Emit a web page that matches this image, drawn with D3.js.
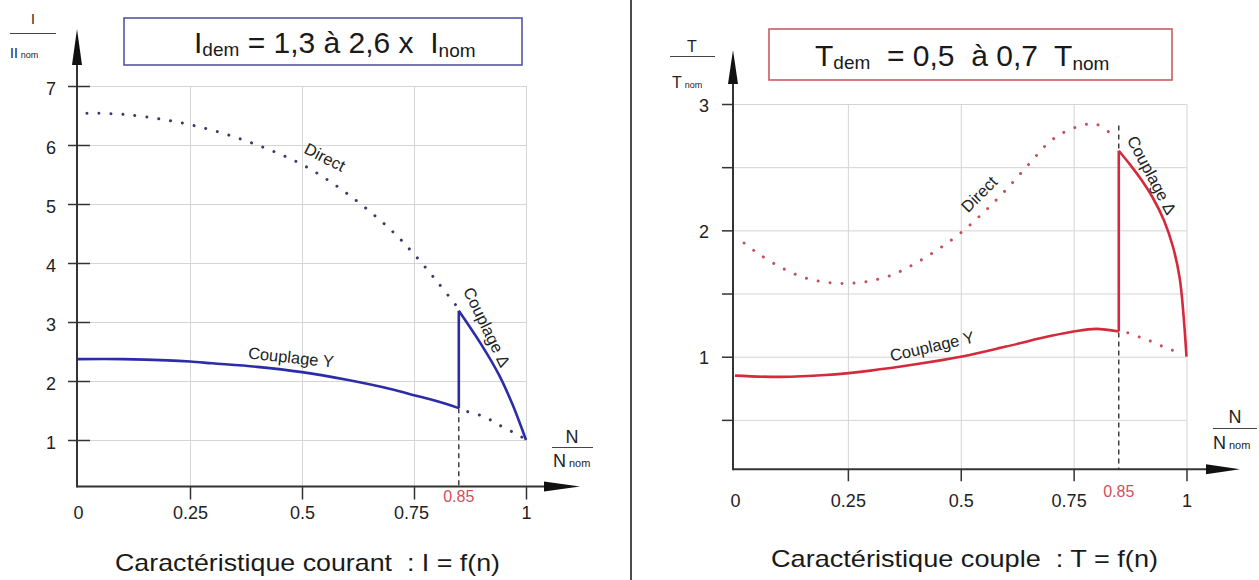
<!DOCTYPE html>
<html>
<head>
<meta charset="utf-8">
<script src="https://cdn.jsdelivr.net/npm/d3@7"></script>
<style>
body { margin: 0; background: #fff; }
svg { display: block; font-family: "Liberation Sans", Arial, sans-serif; }
</style>
</head>
<body>
<svg width="1259" height="580"></svg>
<script>
var svg = d3.select('svg');

// axe N / N nom, commun aux deux graphes
var xTicks = [0, 0.25, 0.5, 0.75, 1];
var nSwitch = 0.85;

// courant : I / I nom
var curTicksY = [1, 2, 3, 4, 5, 6, 7];
var nDirectI = [0.02, 0.1, 0.2, 0.3, 0.4, 0.5, 0.6, 0.7, 0.75, 0.8, 0.85];
var directI = [6.54, 6.52, 6.42, 6.25, 6.0, 5.67, 5.18, 4.55, 4.15, 3.7, 3.22];
var nDirectI2 = [0.87, 0.905, 0.93, 0.955, 0.98, 1];
var directI2 = [1.48, 1.4, 1.3, 1.19, 1.1, 1.0];
var nCouplageYI = [0, 0.1, 0.2, 0.25, 0.3, 0.4, 0.5, 0.6, 0.7, 0.75, 0.8, 0.85];
var couplageYI = [2.37, 2.37, 2.35, 2.33, 2.3, 2.24, 2.15, 2.02, 1.86, 1.76, 1.66, 1.54];
var nCouplageDI = [0.85, 0.9, 0.94, 0.97, 1];
var couplageDI = [3.19, 2.62, 2.1, 1.6, 1.0];

// couple : T / T nom
var torqueTicksY = [0.5, 1, 1.5, 2, 2.5, 3];
var torqueLabelsY = [1, 2, 3];
var nDirectT = [0.02, 0.05, 0.1, 0.15, 0.2, 0.25, 0.3, 0.35, 0.4, 0.45, 0.5, 0.55, 0.6, 0.65, 0.7, 0.75, 0.8, 0.84];
var directT = [1.9, 1.82, 1.71, 1.63, 1.59, 1.58, 1.6, 1.65, 1.74, 1.85, 1.98, 2.14, 2.32, 2.52, 2.71, 2.81, 2.84, 2.74];
var nDirectT2 = [0.87, 0.9, 0.93, 0.96, 0.985];
var directT2 = [1.19, 1.15, 1.11, 1.06, 1.04];
var nCouplageYT = [0, 0.1, 0.2, 0.3, 0.4, 0.5, 0.6, 0.7, 0.75, 0.8, 0.85];
var couplageYT = [0.85, 0.84, 0.855, 0.89, 0.94, 1.0, 1.08, 1.165, 1.2, 1.22, 1.2];
var nCouplageDT = [0.85, 0.875, 0.9, 0.925, 0.95, 0.97, 0.985, 1];
var couplageDT = [2.63, 2.52, 2.4, 2.26, 2.08, 1.87, 1.62, 1.0];

var panels = [
	{
		xRange: [78, 526], yDomain: [1, 7], yRange: [440, 86],
		axisX: 77, axisY: 486.5, xTip: 580, yTip: 29, arrowLen: 34,
		yGrid: curTicksY, yTicks: curTicksY, yLabels: curTicksY,
		yTickOut: 9, yTickIn: 13, yLabelX: 56, yLabelDy: 8,
		xTickLen: 13, xLabelY: 519, switchLabelY: 502, shift75: -3,
		dashTop: null,
		solid: '#2c2ca8', dots: '#3a3a6c', box: '#5656a0',
		direct: [nDirectI, directI], direct2: [nDirectI2, directI2],
		coupY: [nCouplageYI, couplageYI], coupD: [nCouplageDI, couplageDI],
		lblDirect: [325, 157, 27], lblY: [291, 357, 6], lblD: [487, 327, 64]
	},
	{
		xRange: [735, 1186.5], yDomain: [1, 3], yRange: [356.7, 104],
		axisX: 733, axisY: 469.3, xTip: 1240, yTip: 50, arrowLen: 32,
		yGrid: torqueTicksY, yTicks: torqueTicksY, yLabels: torqueLabelsY,
		yTickOut: 11, yTickIn: 0, yLabelX: 709, yLabelDy: 7,
		xTickLen: 12, xLabelY: 507, switchLabelY: 497, shift75: -5,
		dashTop: 2.83,
		solid: '#d42a3c', dots: '#c4505c', box: '#cc5a64',
		direct: [nDirectT, directT], direct2: [nDirectT2, directT2],
		coupY: [nCouplageYT, couplageYT], coupD: [nCouplageDT, couplageDT],
		lblDirect: [979, 194, -45], lblY: [932, 346, -13], lblD: [1152, 175, 62]
	}
];

function drawPanel(p) {
	var x = d3.scaleLinear().domain([0, 1]).range(p.xRange);
	var y = d3.scaleLinear().domain(p.yDomain).range(p.yRange);
	var top = y(p.yDomain[1]);
	var g = svg.append('g');

	// grille
	var gy = g.append('g')
		.attr('transform', `translate(${p.axisX},0)`)
		.call(d3.axisRight(y).tickValues(p.yGrid).tickSize(x(1) - p.axisX).tickFormat(''));
	gy.select('.domain').remove();
	gy.selectAll('line').attr('stroke', '#d4d4d4');

	var gx = g.append('g')
		.attr('transform', `translate(0,${p.axisY})`)
		.call(d3.axisBottom(x).tickValues(xTicks.slice(1)).tickSize(-(p.axisY - top)).tickFormat(''));
	gx.select('.domain').remove();
	gx.selectAll('line').attr('stroke', '#d4d4d4');

	var line = d3.line()
		.x(d => x(d[0]))
		.y(d => y(d[1]))
		.curve(d3.curveCatmullRom.alpha(0.5));

	// Direct (pointillés)
	[p.direct, p.direct2].forEach(function (s) {
		g.append('path')
			.attr('d', line(d3.zip(s[0], s[1])))
			.attr('fill', 'none')
			.attr('stroke', p.dots)
			.attr('stroke-width', 3)
			.attr('stroke-linecap', 'round')
			.attr('stroke-dasharray', '0.01 12');
	});

	// repère 0.85
	var yEnd = p.coupY[1][p.coupY[1].length - 1];
	var dashFrom = p.dashTop != null ? y(p.dashTop) : y(yEnd);
	g.append('line')
		.attr('x1', x(nSwitch)).attr('x2', x(nSwitch))
		.attr('y1', dashFrom).attr('y2', p.axisY)
		.attr('stroke', '#222')
		.attr('stroke-width', 1.3)
		.attr('stroke-dasharray', '5 4');

	// couplages (trait plein)
	[p.coupY, p.coupD].forEach(function (s) {
		g.append('path')
			.attr('d', line(d3.zip(s[0], s[1])))
			.attr('fill', 'none')
			.attr('stroke', p.solid)
			.attr('stroke-width', 2.6);
	});
	g.append('line')
		.attr('x1', x(nSwitch)).attr('x2', x(nSwitch))
		.attr('y1', y(yEnd)).attr('y2', y(p.coupD[1][0]))
		.attr('stroke', p.solid)
		.attr('stroke-width', 2.6);

	// axes + flèches
	g.append('line')
		.attr('x1', p.axisX).attr('x2', p.xTip - p.arrowLen)
		.attr('y1', p.axisY).attr('y2', p.axisY)
		.attr('stroke', '#333').attr('stroke-width', 2);
	g.append('line')
		.attr('x1', p.axisX).attr('x2', p.axisX)
		.attr('y1', p.axisY + 1).attr('y2', p.yTip + p.arrowLen)
		.attr('stroke', '#333').attr('stroke-width', 2);
	g.append('path')
		.attr('d', `M${p.xTip},${p.axisY}L${p.xTip - p.arrowLen - 2},${p.axisY - 5}L${p.xTip - p.arrowLen - 2},${p.axisY + 5}Z`)
		.attr('fill', '#111');
	g.append('path')
		.attr('d', `M${p.axisX},${p.yTip}L${p.axisX - 5},${p.yTip + p.arrowLen + 2}L${p.axisX + 5},${p.yTip + p.arrowLen + 2}Z`)
		.attr('fill', '#111');

	// graduations Y
	var ay = g.append('g')
		.attr('transform', `translate(${p.axisX},0)`)
		.call(d3.axisLeft(y).tickValues(p.yTicks).tickSize(p.yTickOut)
			.tickFormat(d => p.yLabels.indexOf(d) >= 0 ? d : ''));
	ay.select('.domain').remove();
	ay.selectAll('line').attr('x1', p.yTickIn).attr('stroke', '#333').attr('stroke-width', 1.5);
	ay.selectAll('text')
		.attr('x', p.yLabelX - p.axisX)
		.attr('dy', null)
		.attr('y', p.yLabelDy)
		.attr('fill', '#222')
		.attr('font-size', 18)
		.attr('font-family', null);

	// graduations X
	var ax = g.append('g')
		.attr('transform', `translate(0,${p.axisY})`)
		.call(d3.axisBottom(x).tickValues(xTicks).tickSize(p.xTickLen).tickFormat(d => String(d)));
	ax.select('.domain').remove();
	ax.selectAll('line').attr('stroke', '#333').attr('stroke-width', 1.5);
	ax.selectAll('.tick').filter(d => d === 0).select('line').remove();
	ax.selectAll('text')
		.attr('y', p.xLabelY - p.axisY)
		.attr('dy', null)
		.attr('dx', d => d === 0.75 ? p.shift75 : 0)
		.attr('fill', '#222')
		.attr('font-size', 18)
		.attr('font-family', null);

	g.append('text')
		.attr('x', x(nSwitch)).attr('y', p.switchLabelY)
		.attr('text-anchor', 'middle')
		.attr('font-size', 16)
		.attr('fill', '#d0505c')
		.text(String(nSwitch));

	// étiquettes des courbes
	[[p.lblDirect, 'Direct'], [p.lblY, 'Couplage Y'], [p.lblD, 'Couplage Δ']].forEach(function (l) {
		g.append('text')
			.attr('transform', `translate(${l[0][0]},${l[0][1]}) rotate(${l[0][2]})`)
			.attr('text-anchor', 'middle')
			.attr('dominant-baseline', 'central')
			.attr('font-size', 16.5)
			.attr('fill', '#222')
			.text(l[1]);
	});

	return g;
}

var gI = drawPanel(panels[0]);
var gT = drawPanel(panels[1]);

// cadres de titre
function titleBox(x0, y0, w, h, color, tx, ty, main, sub1, mid, sub2) {
	svg.append('rect')
		.attr('x', x0).attr('y', y0).attr('width', w).attr('height', h)
		.attr('fill', '#fff').attr('stroke', color).attr('stroke-width', 1.6);
	var t = svg.append('text')
		.attr('x', tx).attr('y', ty)
		.attr('font-size', 30)
		.attr('fill', '#1a1a1a')
		.style('white-space', 'pre');
	t.append('tspan').text(main);
	t.append('tspan').attr('font-size', 19).attr('dy', 3).text(sub1);
	t.append('tspan').attr('dy', -3).text(mid);
	t.append('tspan').attr('font-size', 19).attr('dy', 4).text(sub2);
}
titleBox(124, 18, 398, 47, '#5656a0', 194, 53, 'I', 'dem', ' = 1,3 à 2,6 x  I', 'nom');
titleBox(769, 29, 403, 51, '#cc5a64', 815, 65.5, 'T', 'dem', '  = 0,5  à 0,7  T', 'nom');

// libellés des axes
function fraction(cx, x0, x1, yLine, num, numY, numSize, den, denSub, denX, denY, denSize, subSize) {
	svg.append('text')
		.attr('x', cx).attr('y', numY)
		.attr('text-anchor', 'middle')
		.attr('font-size', numSize)
		.attr('fill', '#222')
		.text(num);
	svg.append('line')
		.attr('x1', x0).attr('x2', x1)
		.attr('y1', yLine).attr('y2', yLine)
		.attr('stroke', '#444').attr('stroke-width', 1.2);
	var t = svg.append('text')
		.attr('x', denX).attr('y', denY)
		.attr('font-size', denSize)
		.attr('fill', '#222');
	t.append('tspan').text(den);
	t.append('tspan').attr('font-size', subSize).attr('dx', 3).text(denSub);
}
fraction(33, 10, 56, 33.5, 'I', 24, 14, 'II', 'nom', 10, 58, 14, 9);
fraction(692, 670, 715, 56.5, 'T', 52, 16, 'T', 'nom', 672, 88, 16, 9);
fraction(572, 552, 593, 447.5, 'N', 443, 18, 'N', 'nom', 553, 467, 18, 11);
fraction(1235, 1213, 1257, 428.5, 'N', 423, 18, 'N', 'nom', 1213, 449, 18, 11);

// légendes
svg.append('text')
	.attr('x', 115).attr('y', 571)
	.attr('font-size', 24)
	.attr('fill', '#1a1a1a')
	.attr('textLength', 385)
	.attr('lengthAdjust', 'spacingAndGlyphs')
	.style('white-space', 'pre')
	.text('Caractéristique courant  : I = f(n)');
svg.append('text')
	.attr('x', 771).attr('y', 567)
	.attr('font-size', 24)
	.attr('fill', '#1a1a1a')
	.attr('textLength', 387)
	.attr('lengthAdjust', 'spacingAndGlyphs')
	.style('white-space', 'pre')
	.text('Caractéristique couple  : T = f(n)');

// séparateur
svg.append('line')
	.attr('x1', 631).attr('x2', 631)
	.attr('y1', 0).attr('y2', 580)
	.attr('stroke', '#111').attr('stroke-width', 1.5);
</script>
</body>
</html>
